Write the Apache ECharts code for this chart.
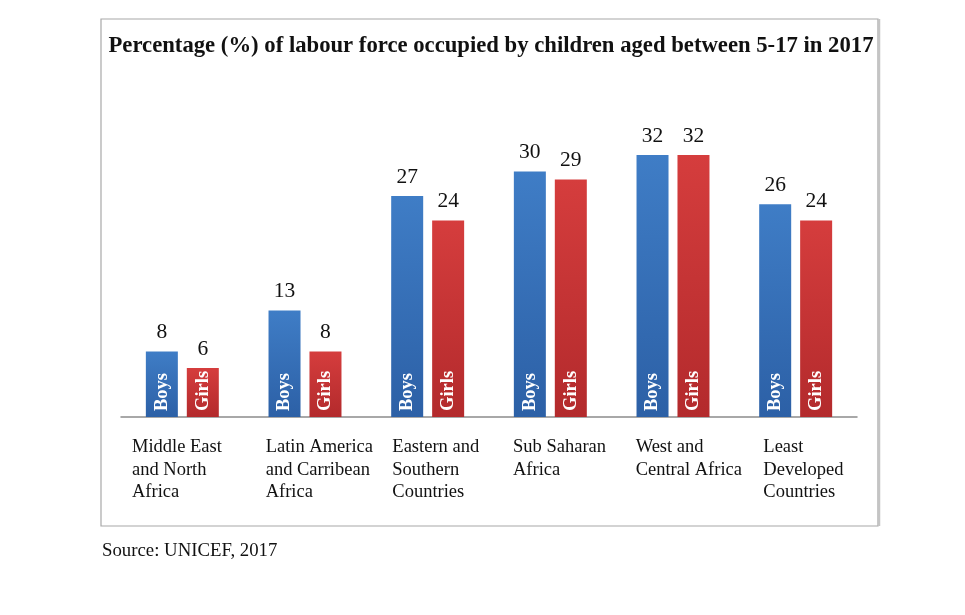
<!DOCTYPE html>
<html>
<head>
<meta charset="utf-8">
<script src="https://cdn.jsdelivr.net/npm/echarts@6/dist/echarts.min.js"></script>
<style>html,body{margin:0;padding:0;background:#fff}#c{width:965px;height:615px}</style>
</head>
<body>
<div id="c"></div>
<script>
const categories = ["Middle East\nand North\nAfrica", "Latin America\nand Carribean\nAfrica", "Eastern and\nSouthern\nCountries", "Sub Saharan\nAfrica", "West and\nCentral Africa", "Least\nDeveloped\nCountries"];
const boys = [8, 13, 27, 30, 32, 26];
const girls = [6, 8, 24, 29, 32, 24];
const seriesNames = ["Boys", "Girls"];
const titleText = "Percentage (%) of labour force occupied by children aged between 5-17 in 2017";
const sourceText = "Source: UNICEF, 2017";

const serif = "'Liberation Serif', 'Times New Roman', serif";
const labelPad = [11, 22, 26, 24, 24, 29];
const rich = {};
labelPad.forEach((p, i) => {
  rich['c' + i] = { fontFamily: serif, fontSize: 18.5, lineHeight: 22.5, color: '#111', padding: [0, 0, 0, p], align: 'left' };
});

function grad(top, bottom) {
  return { type: 'linear', x: 0, y: 0, x2: 0, y2: 1, colorStops: [{ offset: 0, color: top }, { offset: 1, color: bottom }] };
}
const blue = grad('#3f7dc6', '#2c60a6');
const red = grad('#d53d3d', '#b32a2c');

const chart = echarts.init(document.getElementById('c'), null, { renderer: 'canvas' });
const barBase = { type: 'bar', barWidth: 32, barGap: '28%' };
chart.setOption({
  animation: false,
  backgroundColor: '#fff',
  title: [
    { text: titleText, left: 486, top: 30, textAlign: 'center',
      textStyle: { fontFamily: serif, fontWeight: 'bold', fontSize: 22.7, color: '#111' } },
    { text: sourceText, left: 97, top: 537,
      textStyle: { fontFamily: serif, fontWeight: 'normal', fontSize: 18.8, color: '#111' } }
  ],
  graphic: [
    { type: 'rect', shape: { x: 101, y: 19, width: 777, height: 507 }, style: { fill: 'none', stroke: '#a8a8a8', lineWidth: 1.2 }, silent: true },
    { type: 'line', shape: { x1: 879, y1: 19, x2: 879, y2: 526 }, style: { stroke: '#c4c4c4', lineWidth: 2.5 }, silent: true }
  ],
  grid: { left: 121, right: 108, top: 89.5, bottom: 198 },
  xAxis: [
    { type: 'category', data: categories, boundaryGap: true,
      axisLine: { show: true, lineStyle: { color: '#8c8c8c', width: 1.5 } },
      axisTick: { show: false }, axisLabel: { show: false }, splitLine: { show: false } },
    { type: 'value', min: 0, max: 6, interval: 1, position: 'bottom',
      axisLine: { show: false }, axisTick: { show: false }, splitLine: { show: false },
      axisLabel: { show: true, align: 'left', verticalAlign: 'top', margin: 19, showMinLabel: true, showMaxLabel: true,
        formatter: function (v) { const i = Math.round(v); return i < categories.length ? '{c' + i + '|' + categories[i] + '}' : ''; },
        rich: rich } },
    { type: 'category', data: categories, boundaryGap: true, show: false }
  ],
  yAxis: { type: 'value', min: 0, max: 40, show: false, splitLine: { show: false } },
  series: [
    Object.assign({}, barBase, { name: seriesNames[0], data: boys, xAxisIndex: 0, itemStyle: { color: blue },
      label: { show: true, position: 'top', distance: 8, fontFamily: serif, fontSize: 21.5, color: '#111' } }),
    Object.assign({}, barBase, { name: seriesNames[1], data: girls, xAxisIndex: 0, itemStyle: { color: red },
      label: { show: true, position: 'top', distance: 8, fontFamily: serif, fontSize: 21.5, color: '#111' } }),
    Object.assign({}, barBase, { name: seriesNames[0] + ' ', data: boys, xAxisIndex: 2, z: 5, itemStyle: { color: 'rgba(0,0,0,0)' },
      label: { show: true, position: 'insideBottom', rotate: 90, align: 'left', verticalAlign: 'middle', distance: 6,
        formatter: seriesNames[0], fontFamily: serif, fontWeight: 'bold', fontSize: 18.5, color: '#fff' } }),
    Object.assign({}, barBase, { name: seriesNames[1] + ' ', data: girls, xAxisIndex: 2, z: 5, itemStyle: { color: 'rgba(0,0,0,0)' },
      label: { show: true, position: 'insideBottom', rotate: 90, align: 'left', verticalAlign: 'middle', distance: 6,
        formatter: seriesNames[1], fontFamily: serif, fontWeight: 'bold', fontSize: 18.5, color: '#fff' } })
  ]
});
</script>
</body>
</html>
